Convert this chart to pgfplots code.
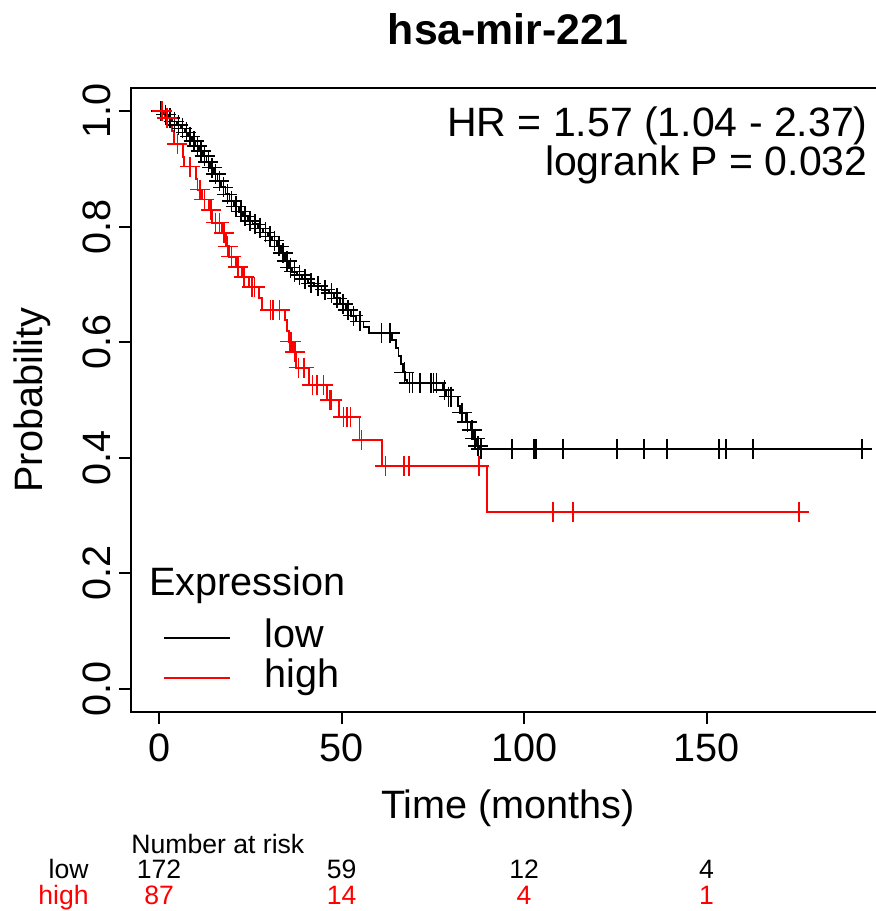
\documentclass[border=0pt]{standalone}
\usepackage{fontspec}
\setmainfont{Liberation Sans}
\usepackage{pgfplots}
\pgfplotsset{compat=1.18}
\usepackage{pgfplotstable}
\definecolor{kmred}{RGB}{255,0,0}
\newcommand{\fs}{\fontsize{19.8pt}{22pt}\selectfont}
\newcommand{\fh}{\fontsize{20.5pt}{22pt}\selectfont}
\newcommand{\fr}{\fontsize{13.3pt}{15pt}\selectfont}

% low expression group: t = months, s = survival, c = 1 for censored
\pgfplotstableread{
t s c
0 1.000 0
0.5 1.000 1
1.2 0.994 0
1.8 0.994 1
2.5 0.988 0
3.0 0.988 1
3.6 0.982 0
4.2 0.982 1
4.8 0.976 0
5.3 0.976 1
5.9 0.970 0
6.4 0.970 1
7.0 0.963 0
7.5 0.963 1
8.0 0.956 0
8.5 0.956 1
9.0 0.948 0
9.5 0.948 1
10.0 0.940 0
10.5 0.940 1
11.0 0.931 0
11.5 0.931 1
12.0 0.922 0
12.5 0.922 1
13.0 0.912 0
13.5 0.912 1
14.0 0.902 0
14.5 0.902 1
15.0 0.891 0
15.5 0.891 1
16.0 0.879 0
16.5 0.879 1
17.0 0.868 0
17.6 0.868 1
18.2 0.856 0
18.7 0.856 1
19.3 0.844 0
19.9 0.844 1
20.5 0.835 0
21.1 0.835 1
21.8 0.826 0
22.4 0.826 1
23.0 0.818 0
23.6 0.818 1
24.3 0.810 0
24.9 0.810 1
25.6 0.804 0
26.3 0.804 1
27.0 0.797 0
27.7 0.797 1
28.4 0.790 0
29.1 0.790 1
29.8 0.783 0
30.4 0.783 1
31.0 0.776 0
31.6 0.776 1
32.2 0.766 0
32.8 0.766 1
33.4 0.754 0
34.0 0.754 1
34.5 0.741 0
35.0 0.741 1
35.5 0.729 0
36.0 0.729 1
36.5 0.722 0
37.1 0.722 1
37.8 0.716 0
38.5 0.716 1
39.2 0.709 0
40.0 0.709 1
40.8 0.702 0
41.6 0.702 1
42.5 0.697 0
43.5 0.697 1
44.5 0.691 0
45.5 0.691 1
46.5 0.685 0
47.2 0.685 1
48.0 0.676 0
48.8 0.676 1
49.6 0.666 0
50.4 0.666 1
51.2 0.656 0
51.8 0.656 1
52.5 0.646 0
53.2 0.646 1
54.0 0.636 0
55.0 0.636 1
56.0 0.626 0
57.5 0.616 0
61.0 0.616 1
63.3 0.616 1
63.8 0.604 0
65.0 0.590 0
65.6 0.576 0
66.2 0.562 0
66.8 0.548 0
67.2 0.548 1
67.5 0.535 0
68.0 0.529 0
68.6 0.529 1
69.5 0.529 1
71.5 0.529 1
74.5 0.529 1
75.2 0.529 1
76.0 0.529 1
77.8 0.517 0
78.2 0.517 1
78.6 0.506 0
79.3 0.506 1
80.0 0.506 1
82.0 0.490 0
82.5 0.478 0
83.0 0.478 1
84.0 0.462 0
84.5 0.462 1
85.3 0.448 0
85.7 0.448 1
86.2 0.433 0
86.6 0.433 1
87.0 0.420 0
87.4 0.420 1
87.7 0.415 0
88.2 0.415 1
96.7 0.415 1
102.7 0.415 1
103.3 0.415 1
110.7 0.415 1
125.5 0.415 1
132.9 0.415 1
139.2 0.415 1
153.4 0.415 1
155.3 0.415 1
162.7 0.415 1
192.6 0.415 1
}\lowtab

% high expression group
\pgfplotstableread{
t s c
0 1.000 0
0.8 1.000 1
1.5 0.988 0
2.2 0.988 1
3.0 0.977 0
3.6 0.966 0
4.1 0.943 0
5.0 0.943 1
6.6 0.921 0
6.9 0.904 0
8.5 0.904 1
10.2 0.882 0
10.5 0.864 0
11.2 0.864 1
11.8 0.847 0
12.4 0.847 1
13.7 0.829 0
14.2 0.829 1
14.6 0.807 0
15.5 0.807 1
16.5 0.807 1
17.3 0.789 0
17.8 0.789 1
18.4 0.766 0
18.8 0.766 1
19.2 0.748 0
19.8 0.748 1
21.1 0.730 0
21.6 0.730 1
22.7 0.713 0
23.2 0.713 1
24.7 0.696 0
25.5 0.696 1
26.2 0.696 1
27.4 0.677 0
28.2 0.656 0
30.5 0.656 1
31.2 0.656 1
33.0 0.656 1
34.6 0.638 0
35.1 0.620 0
35.5 0.601 0
35.8 0.601 1
36.2 0.601 1
36.7 0.583 0
37.2 0.583 1
37.6 0.556 0
38.2 0.556 1
39.7 0.556 1
41.1 0.526 0
42.0 0.526 1
43.2 0.526 1
45.0 0.526 1
46.0 0.500 0
46.8 0.500 1
47.3 0.500 1
49.3 0.471 0
50.5 0.471 1
51.5 0.471 1
52.5 0.471 1
54.9 0.431 0
55.5 0.431 1
61.1 0.386 0
62.0 0.386 1
67.1 0.386 1
68.5 0.386 1
87.6 0.386 1
89.9 0.306 0
107.9 0.306 1
113.4 0.306 1
175.3 0.306 1
}\hightab

\begin{document}
\begin{tikzpicture}
\useasboundingbox (-65.5pt,-99.5pt) rectangle (372.5pt,356pt);
\begin{axis}[
  scale only axis, width=377pt, height=312pt,
  xmin=-7.7, xmax=198.9, ymin=-0.04, ymax=1.04,
  clip=false,
  axis line style={line width=1pt},
  xtick={0,50,100,150}, ytick={0,0.2,0.4,0.6,0.8,1.0},
  xtick pos=bottom, ytick pos=left,
  tick align=outside, major tick length=6pt,
  tick style={line width=1pt, black},
  /pgf/number format/assume math mode=true,
  tick label style={font=\fs},
  xticklabel style={anchor=base, yshift=-18.5pt},
  yticklabel style={/pgf/number format/.cd, fixed, fixed zerofill, precision=1, /tikz/.cd, xshift=-4pt, rotate=90, anchor=base},
  legend style={draw=none, fill=none, at={(axis description cs:0.0424,0.1507)}, anchor=north west,
    inner sep=0pt, outer sep=0pt, font=\fs, row sep=0pt, column sep=17pt,
    nodes={inner sep=0pt, text height=15pt, text depth=5pt}},
  legend cell align=left,
  legend image code/.code={\draw[#1] (0pt,0pt) -- (33pt,0pt);},
]
\addplot[black, line width=0.9pt, const plot, mark=none] table[x=t, y=s] {\lowtab};
\addlegendentry{low}
\addplot[kmred, line width=0.9pt, const plot, mark=none] table[x=t, y=s] {\hightab};
\addlegendentry{high}
\addplot[black, only marks, mark=+, mark size=5pt, mark options={line width=0.75pt}, forget plot]
  table[x=t, y expr={\thisrow{c}>0 ? \thisrow{s} : nan}] {\lowtab};
\addplot[kmred, only marks, mark=+, mark size=5pt, mark options={line width=0.75pt}, forget plot]
  table[x=t, y expr={\thisrow{c}>0 ? \thisrow{s} : nan}] {\hightab};

\node[anchor=base, font=\fontsize{21.4pt}{24pt}\selectfont\bfseries] at (axis description cs:0.5,1.069) {hsa-mir-221};
\node[anchor=base east, font=\fh, inner sep=0pt] at (axis description cs:0.9775,0.9215) {HR = 1.57 (1.04 - 2.37)};
\node[anchor=base east, font=\fh, inner sep=0pt] at (axis description cs:0.9775,0.859) {logrank P = 0.032};
\node[anchor=base west, font=\fs, inner sep=0pt] at (axis description cs:0.0239,0.1875) {Expression};
\node[anchor=base, font=\fs, inner sep=0pt] at (axis description cs:0.5,-0.170) {Time (months)};
\node[anchor=base, font=\fs, inner sep=0pt, rotate=90] at (axis description cs:-0.118,0.5) {Probability};

\node[anchor=base west, font=\fr, inner sep=0pt] at (axis description cs:0,-0.2260) {Number at risk};
\node[anchor=base east, font=\fr, inner sep=0pt] at (axis description cs:-0.0557,-0.2676) {low};
\node[anchor=base east, font=\fr, inner sep=0pt, text=kmred] at (axis description cs:-0.0557,-0.3077) {high};
\node[anchor=base, font=\fr, inner sep=0pt] at (axis cs:0,-0.329) {172};
\node[anchor=base, font=\fr, inner sep=0pt] at (axis cs:50,-0.329) {59};
\node[anchor=base, font=\fr, inner sep=0pt] at (axis cs:100,-0.329) {12};
\node[anchor=base, font=\fr, inner sep=0pt] at (axis cs:150,-0.329) {4};
\node[anchor=base, font=\fr, inner sep=0pt, text=kmred] at (axis cs:0,-0.3723) {87};
\node[anchor=base, font=\fr, inner sep=0pt, text=kmred] at (axis cs:50,-0.3723) {14};
\node[anchor=base, font=\fr, inner sep=0pt, text=kmred] at (axis cs:100,-0.3723) {4};
\node[anchor=base, font=\fr, inner sep=0pt, text=kmred] at (axis cs:150,-0.3723) {1};
\end{axis}
\end{tikzpicture}
\end{document}
